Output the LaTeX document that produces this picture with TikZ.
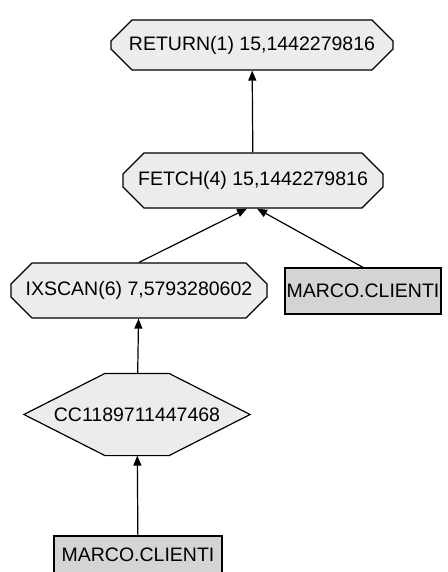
\documentclass[tikz,border=0pt]{standalone}
\usepackage{fontspec}
\setmainfont{Liberation Sans}
\usetikzlibrary{arrows.meta,shapes.misc,backgrounds}

\definecolor{opfill}{RGB}{236,236,236}
\definecolor{tabfill}{RGB}{212,212,212}

\begin{document}
\begin{tikzpicture}[
    x=1pt, y=-1pt,
    line width=1.2pt,
    font=\fontsize{19.5pt}{22pt}\selectfont,
    arrowtip/.style={
      -{Triangle[length=10pt,width=8pt]}
    },
    planop/.style={chamfered rectangle,draw,fill=opfill,
      chamfered rectangle xsep=12pt,chamfered rectangle ysep=12pt,
      inner sep=0pt,minimum height=55pt},
    plantab/.style={rectangle,draw,fill=tabfill,
      inner sep=0pt,minimum height=46pt},
    plancond/.style={rectangle,inner sep=0pt,
      minimum width=225pt,minimum height=81pt}
  ]
    \useasboundingbox (0,0) rectangle (447,572);

    \node[planop,minimum width=282pt,minimum height=50pt] (Return) at (252,45) {RETURN(1) 15,1442279816};
    \node[planop,minimum width=260pt] (Fetch) at (253,180.5) {FETCH(4) 15,1442279816};
    \node[planop,minimum width=256pt] (IxScan) at (139,290.5) {IXSCAN(6) 7,5793280602};
    \node[plantab,minimum width=156pt] (ClientiA) at (363,291) {MARCO.CLIENTI};
    \node[plancond] (Cond) at (137,414.5) {CC1189711447468};
    \node[plantab,minimum width=168pt,minimum height=38pt] (ClientiB) at (138,555) {MARCO.CLIENTI};

    % hexagon round the condition node
    \begin{scope}[on background layer]
      \draw[line width=1.2pt,fill=opfill] (Cond.west) -- ([xshift=-32pt]Cond.north) -- ([xshift=32pt]Cond.north)
        -- (Cond.east) -- ([xshift=32pt]Cond.south) -- ([xshift=-32pt]Cond.south) -- cycle;
    \end{scope}

    \draw[arrowtip] (Fetch) to (Return);
    \draw[arrowtip] (IxScan.north) to ([xshift=-6pt]Fetch.south);
    \draw[arrowtip] (ClientiA.north) to ([xshift=4pt]Fetch.south);
    \draw[arrowtip] (Cond) to (IxScan);
    \draw[arrowtip] (ClientiB) to (Cond);
  \end{tikzpicture}
\end{document}
